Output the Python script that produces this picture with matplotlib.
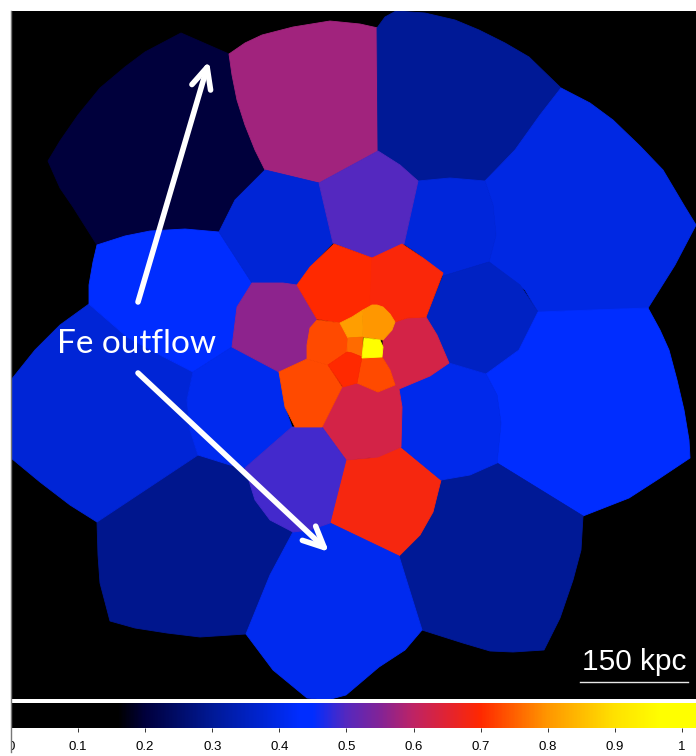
import matplotlib
matplotlib.use('Agg')
import matplotlib.pyplot as plt
from matplotlib.cm import ScalarMappable
from matplotlib.colors import LinearSegmentedColormap, Normalize
from matplotlib.transforms import Bbox

W, H = 696, 756

# colour bar stops
cmap_pos = [0.0, 0.16, 0.2, 0.3, 0.43, 0.45, 0.5, 0.55, 0.6, 0.65, 0.7, 0.8, 0.9, 0.97, 1.021]
cmap_rgb = [(0, 0, 0), (0, 0, 0), (0, 0, 60), (0, 25, 150), (0, 45, 255), (0, 45, 255), (85, 40, 190),
            (130, 35, 150), (190, 35, 100), (225, 35, 50), (255, 40, 0), (255, 150, 0), (255, 225, 0),
            (255, 255, 0), (255, 255, 0)]
vmax = 1.021
cbar_ticks = [0, 0.1, 0.2, 0.3, 0.4, 0.5, 0.6, 0.7, 0.8, 0.9, 1]
cbar_labels = ['0', '0.1', '0.2', '0.3', '0.4', '0.5', '0.6', '0.7', '0.8', '0.9', '1']

# Fe abundance of every bin, outer ring first
region_fe = [0.2, 0.575, 0.3, 0.395, 0.385, 0.355, 0.435, 0.3, 0.685, 0.405, 0.29, 0.38, 0.435, 0.41, 0.38,
             0.5, 0.56, 0.41, 0.7, 0.63, 0.63, 0.49, 0.73, 0.73, 0.69, 0.8, 0.81, 0.76, 0.73, 0.7, 0.97]
# bin outlines in image pixels
region_xy = [
    [(181, 33), (229, 54), (232, 75), (237, 100), (245, 125), (255, 150), (265, 170), (219, 232), (185, 229), (150, 231), (97, 245), (73, 207), (60, 188), (48, 161), (60, 141), (78, 115), (100, 88), (125, 67), (145, 52)],
    [(229, 54), (245, 43), (262, 35), (293, 27), (330, 21), (360, 24), (378, 28), (379, 80), (378, 151), (319, 183), (265, 170), (255, 150), (245, 125), (237, 100), (232, 75)],
    [(377, 28), (385, 17), (396, 11), (425, 13), (455, 20), (479, 30), (505, 43), (529, 57), (561, 88), (540, 115), (515, 150), (485, 181), (450, 178), (418, 181), (400, 165), (378, 151)],
    [(561, 88), (590, 103), (613, 120), (640, 146), (663, 170), (685, 207), (696, 225), (675, 265), (648, 308), (600, 310), (538, 312), (525, 290), (489, 262), (496, 235), (493, 205), (485, 181), (515, 150), (540, 115)],
    [(418, 181), (450, 178), (485, 181), (493, 205), (496, 235), (489, 262), (443, 276), (420, 255), (404, 244)],
    [(443, 276), (489, 262), (520, 285), (538, 312), (519, 350), (486, 374), (449, 363), (437, 335), (426, 317)],
    [(538, 312), (648, 308), (660, 330), (669, 350), (677, 380), (684, 410), (689, 440), (690, 458), (660, 478), (629, 498), (583, 516), (497, 463), (501, 423), (497, 395), (486, 374), (519, 350)],
    [(497, 463), (583, 516), (581, 550), (573, 580), (560, 618), (544, 650), (513, 652), (490, 651), (463, 643), (422, 630), (399, 556), (420, 530), (441, 480), (470, 475)],
    [(401, 447), (441, 480), (433, 512), (420, 535), (399, 556), (370, 545), (330, 523), (345, 460), (370, 458)],
    [(449, 363), (486, 374), (497, 395), (501, 423), (497, 463), (470, 475), (441, 480), (401, 447), (402, 407), (399, 389)],
    [(97, 522), (198, 455), (230, 465), (245, 468), (255, 500), (270, 520), (293, 532), (270, 575), (246, 634), (200, 637), (167, 633), (135, 628), (110, 621), (100, 583), (98, 555)],
    [(11, 380), (35, 350), (60, 325), (89, 304), (127, 337), (160, 355), (193, 372), (187, 400), (190, 430), (198, 455), (97, 522), (70, 505), (40, 482), (11, 458)],
    [(97, 245), (125, 236), (150, 231), (185, 229), (219, 232), (252, 283), (237, 307), (232, 347), (193, 372), (160, 355), (127, 337), (89, 304), (89, 285), (93, 262)],
    [(193, 372), (232, 347), (279, 372), (285, 407), (292, 427), (245, 468), (230, 465), (198, 455), (190, 430), (187, 400)],
    [(265, 170), (319, 183), (333, 243), (310, 267), (297, 285), (252, 283), (219, 232), (235, 200)],
    [(319, 183), (378, 151), (400, 165), (418, 181), (404, 244), (372, 258), (333, 243)],
    [(252, 283), (283, 283), (297, 285), (317, 319), (307, 345), (307, 359), (279, 372), (232, 347), (237, 307)],
    [(330, 523), (399, 556), (422, 630), (405, 650), (379, 667), (346, 695), (327, 700), (307, 698), (273, 670), (246, 634), (270, 575), (293, 532), (310, 530)],
    [(334, 244), (372, 258), (372, 305), (363, 310), (352, 317), (340, 323), (317, 319), (297, 285), (310, 267)],
    [(426, 317), (437, 335), (449, 363), (430, 376), (399, 389), (395, 385), (390, 370), (382, 357), (383, 347), (383, 340), (392, 330), (395, 322), (407, 318)],
    [(342, 387), (357, 383), (378, 392), (395, 385), (399, 389), (402, 407), (401, 447), (378, 457), (346, 460), (322, 427)],
    [(292, 427), (322, 427), (346, 460), (330, 523), (310, 530), (293, 532), (270, 520), (255, 500), (245, 468)],
    [(307, 359), (328, 365), (342, 387), (322, 427), (295, 427), (285, 407), (279, 372)],
    [(317, 320), (340, 323), (348, 338), (347, 352), (328, 365), (307, 359), (307, 345), (310, 328)],
    [(372, 258), (402, 244), (423, 258), (443, 273), (426, 317), (407, 318), (395, 322), (383, 307), (370, 306)],
    [(372, 305), (377, 305), (383, 307), (390, 314), (395, 322), (392, 330), (383, 340), (363, 337), (362, 318), (363, 310)],
    [(352, 317), (363, 310), (362, 318), (363, 337), (348, 338), (340, 323)],
    [(348, 338), (363, 337), (362, 357), (352, 353), (347, 352)],
    [(362, 358), (382, 357), (390, 370), (395, 385), (378, 392), (357, 383), (360, 367)],
    [(347, 352), (352, 353), (362, 357), (360, 367), (357, 383), (343, 387), (328, 365)],
    [(364, 338), (380, 340), (383, 347), (382, 357), (362, 358)],
]

arrow_tails = [(138, 302), (138, 373)]
arrow_tips = [(209, 61), (329, 552)]

cmap = LinearSegmentedColormap.from_list(
    'fe', [(p / vmax, (r / 255, g / 255, b / 255)) for p, (r, g, b) in zip(cmap_pos, cmap_rgb)], N=512)
norm = Normalize(0, vmax)

fig = plt.figure(figsize=(W / 100, H / 100), dpi=100, facecolor='white')
left, right, top, bottom = 11, 696, 11, 699
ax = fig.add_axes([left / W, 1 - bottom / H, (right - left) / W, (bottom - top) / H], facecolor='black')
ax.set_xlim(left, right)
ax.set_ylim(bottom, top)
ax.set_xticks([])
ax.set_yticks([])
for s in ax.spines.values():
    s.set_visible(False)

for xy, fe in zip(region_xy, region_fe):
    c = cmap(norm(fe))
    ax.fill([p[0] for p in xy], [p[1] for p in xy], color=c, lw=0.6)

for tail, tip in zip(arrow_tails, arrow_tips):
    ax.annotate('', xy=tip, xytext=tail,
                arrowprops=dict(arrowstyle='->,head_length=1.5,head_width=0.7', color='white', lw=4,
                                shrinkA=0, shrinkB=0))

ax.text(137, 344, 'Fe outflow', color='white', fontsize=24, family='Lato', ha='center', va='center')
ax.text(634, 662, '150 kpc', color='white', fontsize=21.5, family='Liberation Sans', ha='center', va='center')
ax.plot([580, 688], [682, 682], color='#e8e8e8', lw=1)

cax = fig.add_axes([left / W, 1 - 728 / H, (right - left) / W, 25 / H])
cb = fig.colorbar(ScalarMappable(norm=norm, cmap=cmap), cax=cax, orientation='horizontal')
cb.outline.set_visible(False)
cb.set_ticks(cbar_ticks)
cb.set_ticklabels(cbar_labels)
cax.tick_params(axis='x', length=3, width=0.7, pad=6, labelsize=9.5, color='#333333')
for lab in cax.get_xticklabels():
    lab.set_family('Liberation Sans')
# the 0 label is cut by the left edge of the panel
zero = cax.get_xticklabels()[0]
zero.set_clip_on(True)
zero.set_clip_box(Bbox([[left, 0], [W, H]]))

fig.add_artist(plt.Line2D([10.5 / W, 10.5 / W], [1 - 752 / H, 1 - 11 / H], color='#777777', lw=1))

fig.savefig('out.png', dpi=100)
